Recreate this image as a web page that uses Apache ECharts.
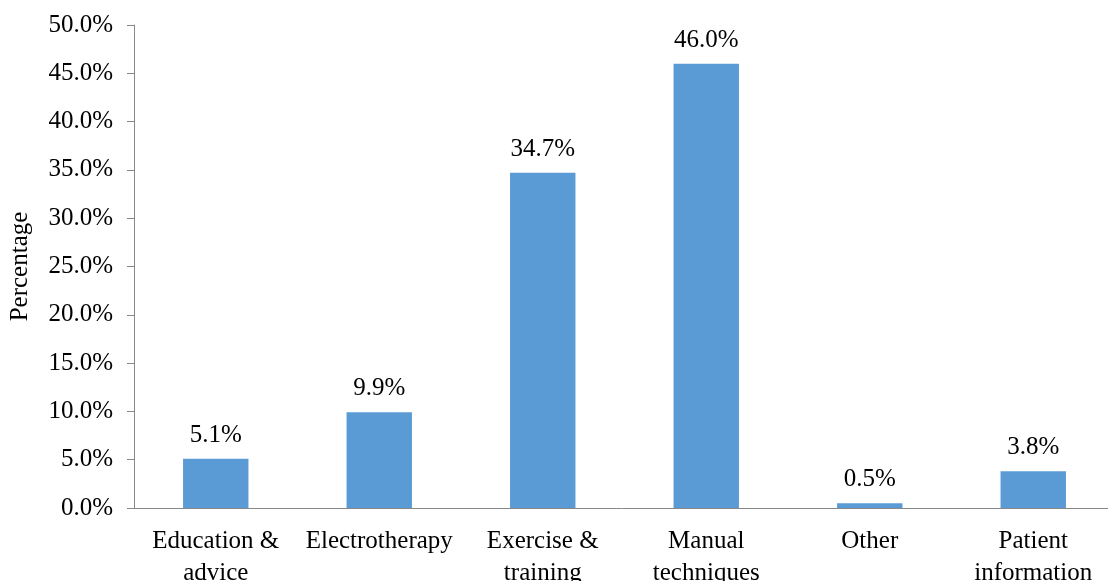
<!DOCTYPE html>
<html>
<head>
<meta charset="utf-8">
<script src="https://cdn.jsdelivr.net/npm/echarts@6/dist/echarts.min.js"></script>
<style>
  html, body { margin: 0; padding: 0; background: #fff; }
  #chart { width: 1108px; height: 581px; }
</style>
</head>
<body>
<div id="chart"></div>
<script>
const categories = ['Education &\nadvice', 'Electrotherapy', 'Exercise &\ntraining', 'Manual\ntechniques', 'Other', 'Patient\ninformation'];
const values = [5.1, 9.9, 34.7, 46.0, 0.5, 3.8];

const font = 'Liberation Serif';

const chart = echarts.init(document.getElementById('chart'));
chart.setOption({
    animation: false,
    grid: {
        left: 134,
        right: -7,
        top: 25,
        bottom: 73,
        outerBoundsMode: 'none',
        containLabel: false
    },
    xAxis: {
        type: 'category',
        data: categories,
        axisLine: { lineStyle: { color: '#888888', width: 1 } },
        axisTick: { show: false },
        axisLabel: {
            fontFamily: font,
            fontSize: 25,
            color: '#000',
            lineHeight: 32,
            margin: 17,
            interval: 0
        }
    },
    yAxis: {
        type: 'value',
        min: 0,
        max: 50,
        interval: 5,
        name: 'Percentage',
        nameLocation: 'middle',
        nameRotate: 90,
        nameGap: 101,
        nameTextStyle: { fontFamily: font, fontSize: 25, color: '#000' },
        splitLine: { show: false },
        axisLine: { show: true, lineStyle: { color: '#888888', width: 1 } },
        axisTick: { show: true, length: 7, lineStyle: { color: '#888888' } },
        axisLabel: {
            fontFamily: font,
            fontSize: 25,
            color: '#000',
            margin: 21,
            formatter: v => v.toFixed(1) + '%'
        }
    },
    series: [{
        type: 'bar',
        data: values,
        barWidth: '40%',
        itemStyle: { color: '#5b9bd5' },
        label: {
            show: true,
            position: 'top',
            distance: 11,
            fontFamily: font,
            fontSize: 25,
            color: '#000',
            formatter: p => p.value.toFixed(1) + '%'
        }
    }]
});
</script>
</body>
</html>
